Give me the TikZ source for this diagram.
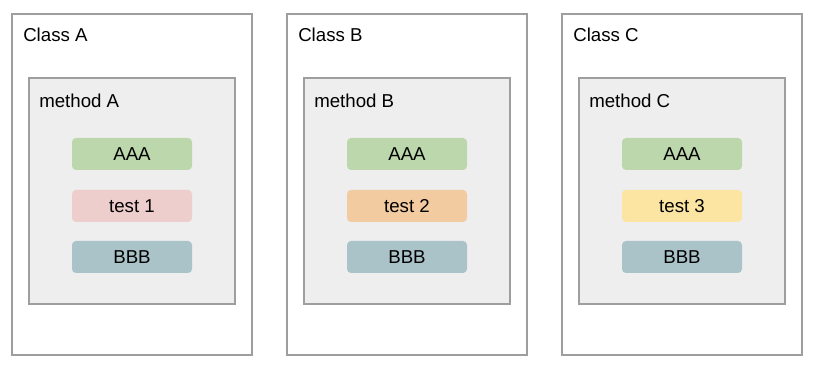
\documentclass[tikz,border=0pt]{standalone}
\usepackage{fontspec}
\setmainfont{Liberation Sans}
\definecolor{frame}{HTML}{9E9E9E}
\definecolor{methfill}{HTML}{EEEEEE}
\definecolor{cgreen}{HTML}{BDD7AC}
\definecolor{cpink}{HTML}{EECDCD}
\definecolor{corange}{HTML}{F2CBA1}
\definecolor{cyellow}{HTML}{FCE5A2}
\definecolor{cteal}{HTML}{AAC3C8}
\tikzset{
  px/.style={x=0.75pt,y=-0.75pt},
  classbox/.style={draw=frame,line width=0.9pt,fill=white},
  methbox/.style={draw=frame,line width=0.9pt,fill=methfill},
  pill/.style={rounded corners=3pt,draw=none},
  lbl/.style={anchor=base west,inner sep=0pt,font=\fontsize{14pt}{16pt}\selectfont},
  plbl/.style={inner sep=0pt,font=\fontsize{14pt}{16pt}\selectfont},
}
\begin{document}
\begin{tikzpicture}[px]
\useasboundingbox (0,0) rectangle (820,373);
\foreach \dx/\L/\n/\tc in {0/A/1/cpink,275/B/2/corange,550/C/3/cyellow}{
  \begin{scope}[xshift=\dx*0.75pt]
    \draw[classbox] (12,14) rectangle (252,355);
    \node[lbl] (class\L) at (23,42) {Class \L};
    \draw[methbox] (29,78) rectangle (235,304);
    \node[lbl] (meth\L) at (39,108) {method \L};
    \fill[pill,fill=cgreen] (72,138) rectangle (192,170);
    \node[plbl] (aaa\L) at (132,154.5) {AAA};
    \fill[pill,fill=\tc] (72,190) rectangle (192,222);
    \node[plbl] (test\L) at (132,206.5) {test \n};
    \fill[pill,fill=cteal] (72,241) rectangle (192,273);
    \node[plbl] (bbb\L) at (132,257.5) {BBB};
  \end{scope}
}
\end{tikzpicture}
\end{document}
